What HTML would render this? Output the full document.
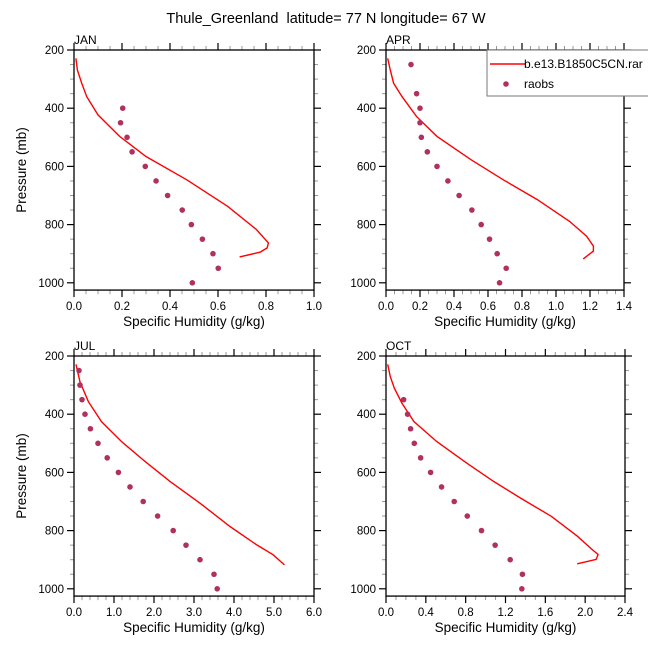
<!DOCTYPE html>
<html><head><meta charset="utf-8">
<style>
body{margin:0;background:#fff;}
svg{display:block;font-family:"Liberation Sans",Arial,sans-serif;}
</style></head>
<body>
<svg id="fig" width="648" height="648" viewBox="0 0 648 648" xmlns="http://www.w3.org/2000/svg">
<rect x="0" y="0" width="648" height="648" fill="#fff"/>
<text x="326" y="23" font-size="14.5" text-anchor="middle">Thule_Greenland &#160;latitude= 77 N longitude= 67 W</text>
</svg>
<script>
// ---- data ----
const months = ["JAN","APR","JUL","OCT"];
const xMaxes = [1.0, 1.4, 6.0, 2.4];
const xMajorSteps = [0.2, 0.2, 1.0, 0.4];
const xMinorSteps = [0.05, 0.05, 0.2, 0.1];
const xTickDecimals = [1, 1, 1, 1];
const yTicks = [200, 400, 600, 800, 1000];

const janModelP = [229,269,314,360,423,497,566,646,737,817,863,880,895,911];
const janModelQ = [0.008,0.014,0.032,0.053,0.10,0.19,0.30,0.47,0.64,0.76,0.81,0.805,0.775,0.69];
const janObsP = [400,450,500,550,600,650,700,750,800,850,900,950,1000];
const janObsQ = [0.203,0.194,0.221,0.242,0.297,0.342,0.39,0.451,0.489,0.535,0.579,0.601,0.493];

const aprModelP = [229,269,314,360,429,497,577,646,714,789,840,874,891,918];
const aprModelQ = [0.01,0.025,0.045,0.094,0.18,0.30,0.50,0.69,0.89,1.08,1.18,1.22,1.22,1.16];
const aprObsP = [250,350,400,450,500,550,600,650,700,750,800,850,900,950,1000];
const aprObsQ = [0.147,0.18,0.20,0.20,0.208,0.243,0.30,0.364,0.43,0.505,0.56,0.609,0.654,0.707,0.668];

const julModelP = [229,289,357,426,494,563,631,706,786,849,883,918];
const julModelQ = [0.05,0.15,0.36,0.69,1.19,1.78,2.4,3.15,3.9,4.57,4.98,5.26];
const julObsP = [250,300,350,400,450,500,550,600,650,700,750,800,850,900,950,1000];
const julObsQ = [0.125,0.15,0.2,0.275,0.41,0.6,0.83,1.11,1.4,1.73,2.09,2.48,2.8,3.15,3.5,3.58];

const octModelP = [229,271,311,362,425,494,568,631,688,751,819,865,882,899,914];
const octModelQ = [0.017,0.043,0.084,0.16,0.28,0.51,0.81,1.08,1.35,1.66,1.92,2.07,2.13,2.11,1.92];
const octObsP = [350,400,450,500,550,600,650,700,750,800,850,900,950,1000];
const octObsQ = [0.177,0.217,0.247,0.284,0.348,0.448,0.558,0.685,0.816,0.959,1.096,1.247,1.37,1.364];

const modelP = [janModelP, aprModelP, julModelP, octModelP];
const modelQ = [janModelQ, aprModelQ, julModelQ, octModelQ];
const obsP = [janObsP, aprObsP, julObsP, octObsP];
const obsQ = [janObsQ, aprObsQ, julObsQ, octObsQ];

// ---- drawing ----
const NS = "http://www.w3.org/2000/svg";
const svg = document.getElementById("fig");
function mk(tag, attrs, parent){
  const e = document.createElementNS(NS, tag);
  for (const k in attrs) e.setAttribute(k, attrs[k]);
  (parent||svg).appendChild(e);
  return e;
}
const panels = [
  {x0:74, x1:314, y0:50, y200:50},
  {x0:386, x1:624, y0:50, y200:50},
  {x0:74, x1:314, y0:356, y200:356},
  {x0:386, x1:625, y0:356, y200:356}
];
const pxPer200 = 58.2;
panels.forEach((pn, i) => {
  const g = mk("g", {});
  
  
  const xMax = xMaxes[i];
  const xs = v => pn.x0 + v / xMax * (pn.x1 - pn.x0);
  const ys = p => pn.y200 + (p - 200) / 200 * pxPer200;
  const yBot = ys(1025);
  for (let p = 200; p <= 1025; p += 50) {
    if (p % 200 === 0) continue;
    const y = ys(p);
    const t1 = mk("line", {x1:pn.x0-4, x2:pn.x0, y1:y, y2:y, stroke:"#999", "stroke-width":1}, g);
    
    
    const t2 = mk("line", {x1:pn.x1, x2:pn.x1+4, y1:y, y2:y, stroke:"#999", "stroke-width":1}, g);
    
    
  }
  const nMinor = Math.round(xMax / xMinorSteps[i]);
  const ratio = Math.round(xMajorSteps[i] / xMinorSteps[i]);
  for (let k = 0; k <= nMinor; k++) {
    if (k % ratio === 0) continue;
    const x = xs(k * xMinorSteps[i]);
    const t1 = mk("line", {x1:x, x2:x, y1:yBot, y2:yBot+4, stroke:"#999", "stroke-width":1}, g);
    
    
    const t2 = mk("line", {x1:x, x2:x, y1:pn.y0-4, y2:pn.y0, stroke:"#999", "stroke-width":1}, g);
    
    
  }
  yTicks.forEach(p => {
    const y = ys(p);
    const a = mk("line", {x1:pn.x0-7, x2:pn.x0, y1:y, y2:y, stroke:"#000", "stroke-width":1.2}, g);
    
    
    const b = mk("line", {x1:pn.x1, x2:pn.x1+7, y1:y, y2:y, stroke:"#000", "stroke-width":1.2}, g);
    
    
    const t = mk("text", {x:pn.x0-10, y:y+4, "font-size":11.5, "text-anchor":"end"}, g);
    
    
    t.textContent = p;
  });
  const nMaj = Math.round(xMax / xMajorSteps[i]);
  for (let k = 0; k <= nMaj; k++) {
    const v = k * xMajorSteps[i];
    const x = xs(v);
    const a = mk("line", {x1:x, x2:x, y1:yBot, y2:yBot+7, stroke:"#000", "stroke-width":1.2}, g);
    
    
    const b = mk("line", {x1:x, x2:x, y1:pn.y0-7, y2:pn.y0, stroke:"#000", "stroke-width":1.2}, g);
    
    
    const t = mk("text", {x:x, y:yBot+20, "font-size":11.5, "text-anchor":"middle"}, g);
    
    
    t.textContent = v.toFixed(xTickDecimals[i]);
  }
  const fr = mk("rect", {x:pn.x0, y:pn.y0, width:pn.x1-pn.x0, height:yBot-pn.y0, fill:"none", stroke:"#000", "stroke-width":1.3}, g);
  
  
  const ml = mk("text", {x:pn.x0, y:pn.y0-6, "font-size":12}, g);
  
  
  ml.textContent = months[i];
  const xt = mk("text", {x:(pn.x0+pn.x1)/2, y:yBot+36, "font-size":13.5, "text-anchor":"middle"}, g);
  
  
  xt.textContent = "Specific Humidity (g/kg)";
  if (i % 2 === 0) {
    const cy = (pn.y0 + yBot) / 2;
    const yt = mk("text", {x:0, y:0, "font-size":13.5, "text-anchor":"middle", transform:`translate(26,${cy}) rotate(-90)`}, g);
    
    
    yt.textContent = "Pressure (mb)";
  }
  const pts = modelP[i].map((p, k) => xs(modelQ[i][k]).toFixed(1) + "," + ys(p).toFixed(1)).join(" ");
  const ln = mk("polyline", {points:pts, fill:"none", stroke:"#ff0000", "stroke-width":1.4}, g);
  
  
  obsP[i].forEach((p, k) => {
    const c = mk("circle", {cx:xs(obsQ[i][k]), cy:ys(p), r:2.8, fill:"#b03060"}, g);
    
    
  });
});
const lg = mk("g", {});


const lb = mk("rect", {x:487, y:50, width:170, height:46, fill:"#fff", stroke:"#777", "stroke-width":1}, lg);


const l1 = mk("line", {x1:490, x2:525, y1:64, y2:64, stroke:"#ff0000", "stroke-width":1.4}, lg);


const t1 = mk("text", {x:524, y:68, "font-size":12}, lg);


t1.textContent = "b.e13.B1850C5CN.rar";
const c1 = mk("circle", {cx:506, cy:84, r:2.8, fill:"#b03060"}, lg);


const t2 = mk("text", {x:524, y:88, "font-size":12}, lg);


t2.textContent = "raobs";
</script>
</body></html>
